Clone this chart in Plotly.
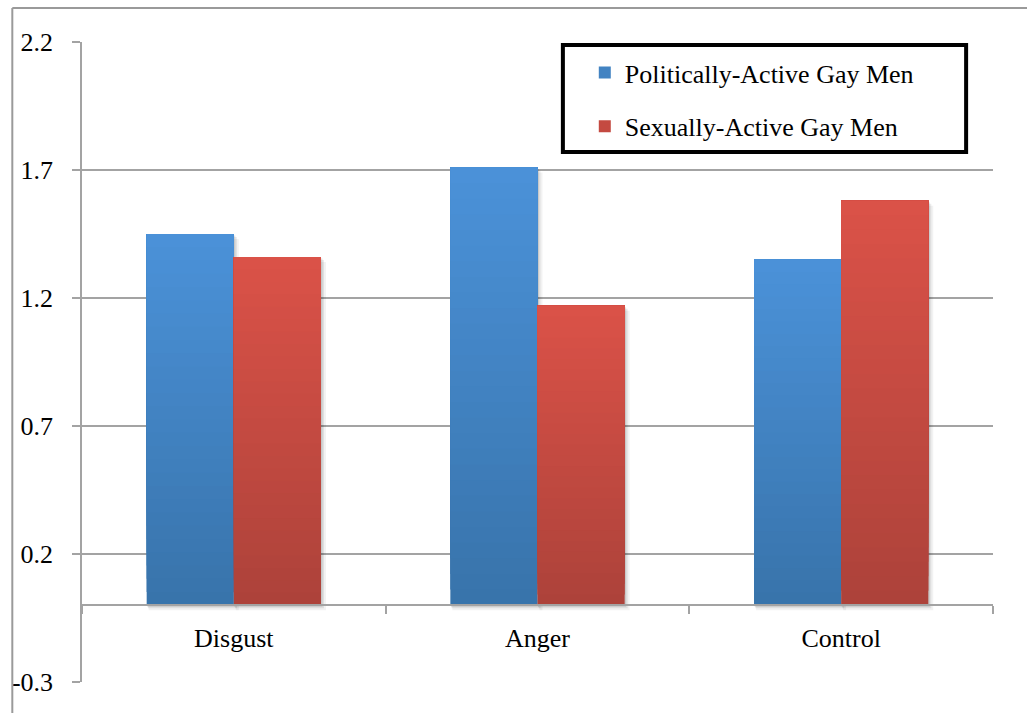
import plotly.graph_objects as go

# Mean ratings per emotion condition
categories = ["Disgust", "Anger", "Control"]
political_values = [1.45, 1.71, 1.35]
sexual_values = [1.36, 1.17, 1.58]
series_names = ["Politically-Active Gay Men", "Sexually-Active Gay Men"]

y_ticks = [-0.3, 0.2, 0.7, 1.2, 1.7, 2.2]

FONT = "Liberation Serif"
GRID = "#a3a3a3"

W, H = 1027, 713
ML, MR, MT, MB = 78, 34, 42, 31
PW, PH = W - ML - MR, H - MT - MB
X_UNIT = 1 / (PW / 3)      # one pixel in category units
Y_UNIT = 2.5 / PH          # one pixel in value units

# (top colour, bottom colour) for each series' vertical gradient
gradients = [
    ((75, 146, 217), (56, 115, 170)),
    ((219, 82, 72), (172, 66, 58)),
]
BAR_W = 0.287
offsets = [-BAR_W, 0.0]
N_STEPS = 28


def mix(c_top, c_bot, t):
    r, g, b = (round(c_bot[i] + (c_top[i] - c_bot[i]) * t) for i in range(3))
    return f"rgb({r},{g},{b})"


fig = go.Figure()
all_values = [political_values, sexual_values]

# soft drop shadows behind the bars
for s, vals in enumerate(all_values):
    for d, alpha in [(5, 0.05), (3, 0.08), (1.5, 0.10)]:
        fig.add_trace(go.Bar(
            x=categories,
            y=vals,
            base=[-d * Y_UNIT] * len(vals),
            width=BAR_W + d * X_UNIT * 0.6,
            offset=offsets[s] + d * X_UNIT * 0.4,
            marker=dict(color=f"rgba(0,0,0,{alpha})", line=dict(width=0)),
            showlegend=False,
            hoverinfo="skip",
        ))

for s, (name, vals) in enumerate(zip(series_names, all_values)):
    top, bot = gradients[s]
    # Stack progressively shorter, lighter bars on top of each other to
    # build a darker-at-the-bottom gradient inside every bar.
    for k in range(N_STEPS):
        frac = k / N_STEPS
        t = (k + 0.5) / N_STEPS
        fig.add_trace(go.Bar(
            x=categories,
            y=[v * (1 - frac) for v in vals],
            base=[v * frac for v in vals],
            width=BAR_W,
            offset=offsets[s],
            marker=dict(color=mix(top, bot, t), line=dict(width=0)),
            name=name,
            legendgroup=name,
            showlegend=(k == N_STEPS // 2),
            hoverinfo="skip" if k else None,
        ))

fig.update_layout(
    width=W, height=H,
    margin=dict(l=ML, r=MR, t=MT, b=MB, pad=0),
    paper_bgcolor="white",
    plot_bgcolor="white",
    barmode="overlay",
    font=dict(family=FONT, size=26, color="black"),
    showlegend=True,
    legend=dict(
        x=(583 - ML) / PW, xanchor="left",
        y=(H - MB - 49) / PH, yanchor="top",
        bgcolor="rgba(0,0,0,0)",
        borderwidth=0,
        traceorder="grouped",
        tracegroupgap=17,
        itemwidth=30,
        font=dict(family=FONT, size=26, color="black"),
    ),
    xaxis=dict(
        type="category",
        anchor="free",
        position=0.3 / 2.5,
        showline=True, linecolor=GRID, linewidth=1.5,
        ticks="outside", tickson="boundaries", ticklen=8,
        tickcolor=GRID, tickwidth=1.5,
        showgrid=False,
        ticklabelstandoff=10,
        tickfont=dict(family=FONT, size=26, color="black"),
    ),
    yaxis=dict(
        range=[-0.3, 2.2],
        tickvals=y_ticks,
        ticktext=[f"{v:.1f}" for v in y_ticks],
        showgrid=True, gridcolor=GRID, gridwidth=1.5,
        zeroline=False,
        showline=True, linecolor=GRID, linewidth=1.5,
        ticks="outside", ticklen=8, tickcolor=GRID, tickwidth=1.5,
        ticklabelstandoff=14,
        tickfont=dict(family=FONT, size=26, color="black"),
    ),
)


def px_x(px):
    return (px - ML) / PW


def px_y(py):
    return (H - MB - py) / PH


shapes = [
    # outer chart frame (top and left edges)
    dict(type="line", xref="paper", yref="paper",
         x0=px_x(8), x1=px_x(W + 5), y0=px_y(8), y1=px_y(8),
         line=dict(color="#9a9a9a", width=2)),
    dict(type="line", xref="paper", yref="paper",
         x0=px_x(8), x1=px_x(8), y0=px_y(8), y1=px_y(H + 5),
         line=dict(color="#9a9a9a", width=2)),
    # legend box
    dict(type="rect", xref="paper", yref="paper",
         x0=px_x(561), x1=px_x(966), y0=px_y(45), y1=px_y(152),
         line=dict(color="black", width=4), fillcolor="rgba(0,0,0,0)"),
]
fig.update_layout(shapes=shapes)

fig.write_html("out.html")
